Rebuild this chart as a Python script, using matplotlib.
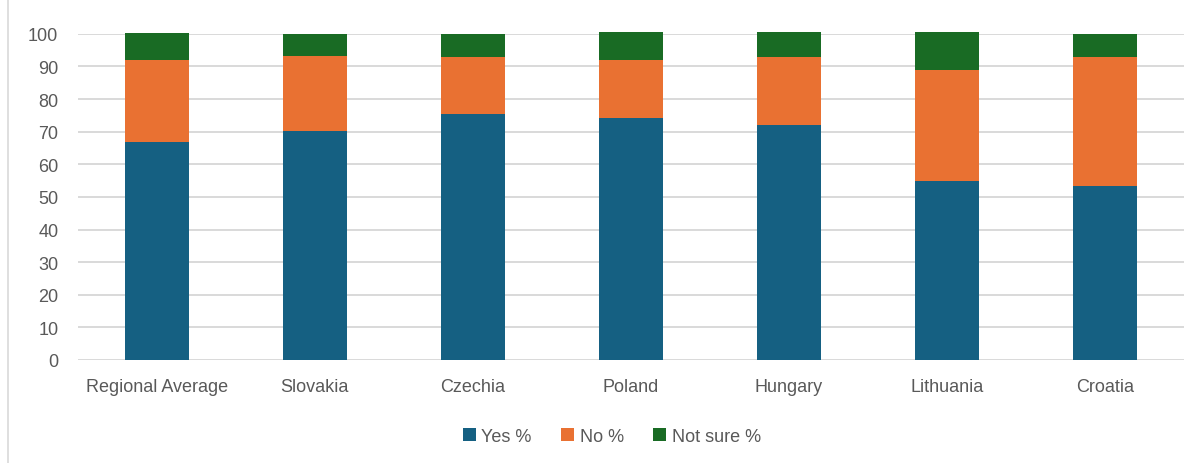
import matplotlib.pyplot as plt
from matplotlib.lines import Line2D
import numpy as np

countries = ["Regional Average", "Slovakia", "Czechia", "Poland", "Hungary", "Lithuania", "Croatia"]
yes = [66.8, 70.2, 75.5, 74.1, 72.1, 54.8, 53.2]
no = [25.1, 23.0, 17.3, 17.8, 20.7, 34.2, 39.6]
not_sure = [8.3, 6.7, 7.1, 8.7, 7.8, 11.6, 7.1]

plt.rcParams["font.family"] = ["Liberation Sans", "DejaVu Sans"]

fig = plt.figure(figsize=(11.97, 4.64), dpi=100)
ax = fig.add_axes([0.065, 0.222, 0.924, 0.703])

x = np.arange(len(countries))
w = 0.405
yes = np.array(yes)
no = np.array(no)
not_sure = np.array(not_sure)
for vals, bottom, color, label in [
    (yes, 0, "#156082", "Yes %"),
    (no, yes, "#E97132", "No %"),
    (not_sure, yes + no, "#196B24", "Not sure %"),
]:
    bars = ax.bar(x, vals, w, bottom=bottom, color=color, label=label, zorder=3)
    for b in bars:
        b.set_clip_on(False)

ax.set_xlim(-0.5, len(countries) - 0.5)
ax.set_ylim(0, 100)
ax.set_yticks(range(0, 101, 10))
ax.set_xticks(x)
ax.set_xticklabels(countries)
ax.tick_params(axis="both", length=0, labelsize=13, colors="#595959")
ax.tick_params(axis="y", pad=14)
ax.tick_params(axis="x", pad=13)
ax.grid(axis="y", color="#d9d9d9", linewidth=1.4, zorder=0)
for s in ax.spines.values():
    s.set_visible(False)

leg = fig.legend(loc="center", bbox_to_anchor=(0.511, 0.057), ncol=3, frameon=False,
                 fontsize=13, handlelength=0.75, handleheight=0.75, handletextpad=0.3,
                 columnspacing=1.6)
for t in leg.get_texts():
    t.set_color("#595959")

fig.add_artist(Line2D([0.007, 0.007], [0, 1], color="#d9d9d9", linewidth=1.2,
                      transform=fig.transFigure))

fig.savefig("out.png", dpi=100)
